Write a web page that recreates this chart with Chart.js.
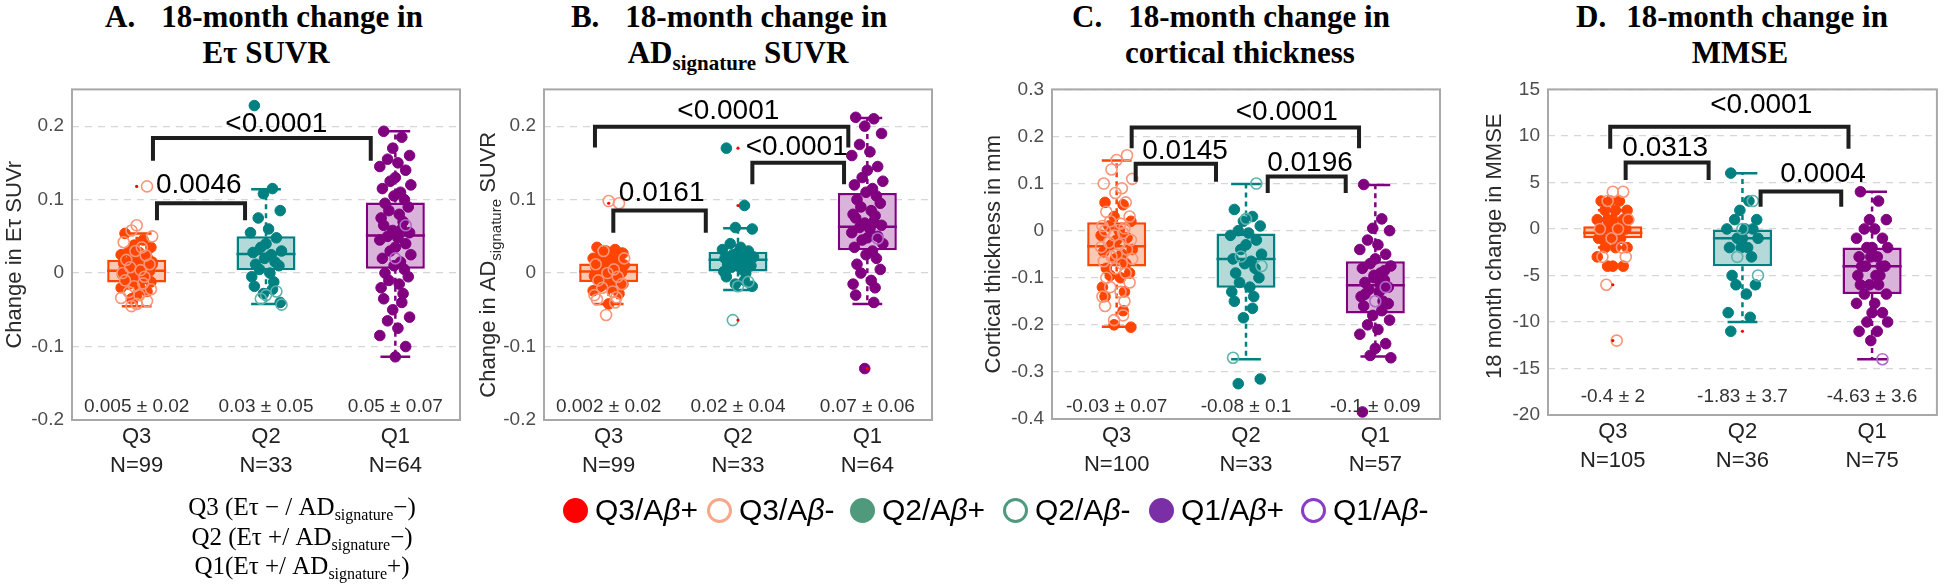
<!DOCTYPE html>
<html>
<head>
<meta charset="utf-8">
<script src="https://cdn.jsdelivr.net/npm/chart.js@4.4.1/dist/chart.umd.min.js"></script>
<style>
  body { margin: 0; background: #fff; }
  #page { position: relative; width: 1944px; height: 585px; overflow: hidden; background: #fff; }
  canvas { position: absolute; top: 70px; }
  .ttl { position: absolute; top: -1px; width: 400px; text-align: center; color: #000;
         font: bold 31px 'Liberation Serif', 'Times New Roman', serif; line-height: 36px; }
  .ttl .tag { margin-right: 26px; }
  .ttl sub { font-size: 21px; vertical-align: -7px; line-height: 0; }
  #qkey { position: absolute; left: 142px; top: 492px; width: 320px; text-align: center; color: #000;
          font: 25px 'Liberation Serif', 'Times New Roman', serif; line-height: 29.5px; }
  #qkey sub { font-size: 16px; vertical-align: -5px; line-height: 0; }
  .leg { position: absolute; top: 493px; display: flex; align-items: center; gap: 7px; color: #000;
         font: 30px 'Liberation Sans', Arial, sans-serif; line-height: 34px; white-space: nowrap; }
  .dot { width: 25px; height: 25px; border-radius: 50%; box-sizing: border-box; display: inline-block; }
</style>
</head>
<body>
<div id="page">
  <div class="ttl" style="left:66px"><div style="position:relative;left:-2px"><span class="tag">A.</span>18-month change in</div><div>E&tau; SUVR</div></div>
  <div class="ttl" style="left:538px"><div style="position:relative;left:-9px"><span class="tag">B.</span>18-month change in</div><div>AD<sub>signature</sub> SUVR</div></div>
  <div class="ttl" style="left:1040px"><div style="position:relative;left:-9px"><span class="tag">C.</span>18-month change in</div><div>cortical thickness</div></div>
  <div class="ttl" style="left:1540px"><div style="position:relative;left:-8px"><span class="tag" style="margin-right:20px">D.</span>18-month change in</div><div>MMSE</div></div>

  <canvas id="chartA" width="480" height="430" style="left:0px"></canvas>
  <canvas id="chartB" width="478" height="430" style="left:478px"></canvas>
  <canvas id="chartC" width="494" height="430" style="left:956px"></canvas>
  <canvas id="chartD" width="494" height="430" style="left:1450px"></canvas>

  <div id="qkey">Q3 (E&tau; &minus; / AD<sub>signature</sub>&minus;)<br>Q2 (E&tau; +/ AD<sub>signature</sub>&minus;)<br>Q1(E&tau; +/ AD<sub>signature</sub>+)</div>
  <div id="legend"></div>
</div>

<script>
// ---------- data ----------
const GROUPS = ['Q3', 'Q2', 'Q1'];
const LEGEND_LABELS = ['Q3/A<i>β</i>+', 'Q3/A<i>β</i>-', 'Q2/A<i>β</i>+', 'Q2/A<i>β</i>-', 'Q1/A<i>β</i>+', 'Q1/A<i>β</i>-'];

// A. E-tau SUVR
const aCounts = [99, 33, 64];
const aTicks = [-0.2, -0.1, 0, 0.1, 0.2];
const aStats = ['0.005 ± 0.02', '0.03 ± 0.05', '0.05 ± 0.07'];
const aPvals = ['0.0046', '<0.0001'];
const aBoxLow = [-0.013, 0.004, 0.006];
const aMedian = [0.003, 0.026, 0.051];
const aBoxHigh = [0.018, 0.050, 0.096];
const aWhiskLow = [-0.045, -0.042, -0.114];
const aWhiskHigh = [0.054, 0.114, 0.193];
const aPos = [
    [0.054, 0.045, 0.038, 0.035, 0.03, 0.028, 0.025, 0.022, 0.02, 0.018, 0.015, 0.013, 0.01, 0.008, 0.006, 0.005, 0.003, 0.002, 0, -0.002, -0.004, -0.006, -0.008, -0.01, -0.012, -0.015, -0.018, -0.02, -0.025, -0.03, -0.035, 0.012, 0.004, -0.001],
    [0.228, 0.115, 0.108, 0.085, 0.075, 0.06, 0.055, 0.048, 0.04, 0.035, 0.03, 0.028, 0.025, 0.02, 0.015, 0.012, 0.01, 0.005, 0, -0.005, -0.012, -0.018, -0.022, -0.028, -0.04],
    [0.193, 0.185, 0.17, 0.16, 0.155, 0.15, 0.145, 0.14, 0.13, 0.125, 0.12, 0.115, 0.11, 0.105, 0.1, 0.095, 0.09, 0.085, 0.08, 0.075, 0.07, 0.065, 0.06, 0.058, 0.055, 0.05, 0.048, 0.045, 0.04, 0.035, 0.03, 0.025, 0.02, 0.015, 0.01, 0.005, 0, -0.005, -0.01, -0.015, -0.02, -0.028, -0.035, -0.04, -0.05, -0.06, -0.065, -0.075, -0.085, -0.1, -0.114]
];
const aNeg = [
    [0.118, 0.065, 0.058, 0.05, 0.042, 0.035, 0.03, 0.024, 0.018, 0.012, 0.008, 0.004, 0, -0.005, -0.01, -0.014, -0.018, -0.022, -0.026, -0.03, -0.034, -0.038, -0.042, -0.045],
    [-0.025, -0.03, -0.035, -0.043],
    [0.065, 0.02]
];
const aOutliers = [[0.118], [], []];

// B. AD-signature SUVR
const bCounts = [99, 33, 64];
const bTicks = [-0.2, -0.1, 0, 0.1, 0.2];
const bStats = ['0.002 ± 0.02', '0.02 ± 0.04', '0.07 ± 0.06'];
const bPvals = ['0.0161', '<0.0001', '<0.0001'];
const bBoxLow = [-0.012, 0.002, 0.031];
const bMedian = [0.002, 0.018, 0.063];
const bBoxHigh = [0.013, 0.029, 0.109];
const bWhiskLow = [-0.042, -0.023, -0.042];
const bWhiskHigh = [0.033, 0.061, 0.211];
const bPos = [
    [0.035, 0.032, 0.03, 0.027, 0.025, 0.022, 0.02, 0.018, 0.015, 0.013, 0.011, 0.009, 0.007, 0.005, 0.004, 0.002, 0.001, 0, -0.002, -0.004, -0.006, -0.008, -0.01, -0.012, -0.015, -0.018, -0.02, -0.024, -0.028, -0.042],
    [0.17, 0.092, 0.062, 0.06, 0.04, 0.035, 0.032, 0.03, 0.028, 0.025, 0.022, 0.02, 0.018, 0.016, 0.014, 0.012, 0.01, 0.008, 0.005, 0.002, 0, -0.005, -0.01, -0.015, -0.018],
    [0.212, 0.21, 0.2, 0.19, 0.175, 0.165, 0.16, 0.145, 0.14, 0.13, 0.125, 0.12, 0.115, 0.11, 0.105, 0.1, 0.095, 0.09, 0.085, 0.08, 0.078, 0.075, 0.07, 0.068, 0.065, 0.062, 0.06, 0.055, 0.05, 0.048, 0.045, 0.04, 0.035, 0.03, 0.025, 0.02, 0.012, 0.005, 0, -0.01, -0.015, -0.02, -0.03, -0.04, -0.13]
];
const bNeg = [
    [0.095, 0.098, 0.03, 0.02, 0.012, 0.005, 0, -0.005, -0.01, -0.015, -0.02, -0.025, -0.03, -0.033, -0.036, -0.04, -0.057],
    [-0.012, -0.018, -0.064],
    [0.047]
];
const bOutliers = [[0.095], [0.17, 0.092, -0.064], [-0.13]];

// C. cortical thickness
const cCounts = [100, 33, 57];
const cTicks = [-0.4, -0.3, -0.2, -0.1, 0, 0.1, 0.2, 0.3];
const cStats = ['-0.03 ± 0.07', '-0.08 ± 0.1', '-0.1 ± 0.09'];
const cPvals = ['0.0145', '0.0196', '<0.0001'];
const cBoxLow = [-0.076, -0.121, -0.176];
const cMedian = [-0.033, -0.060, -0.116];
const cBoxHigh = [0.018, -0.006, -0.065];
const cWhiskLow = [-0.204, -0.273, -0.267];
const cWhiskHigh = [0.149, 0.099, 0.097];
const cPos = [
    [0.06, 0.055, 0.03, 0.02, 0.01, 0, -0.01, -0.015, -0.02, -0.03, -0.04, -0.045, -0.05, -0.06, -0.07, -0.08, -0.09, -0.095, -0.1, -0.12, -0.13, -0.14, -0.17, -0.2, -0.205],
    [0.045, 0.03, 0.02, 0.01, 0, -0.005, -0.01, -0.02, -0.03, -0.04, -0.05, -0.06, -0.065, -0.07, -0.08, -0.09, -0.1, -0.11, -0.12, -0.13, -0.14, -0.15, -0.165, -0.185, -0.315, -0.325],
    [0.098, 0.025, 0.005, 0, -0.02, -0.03, -0.04, -0.05, -0.06, -0.07, -0.075, -0.08, -0.09, -0.1, -0.105, -0.11, -0.12, -0.125, -0.13, -0.14, -0.15, -0.16, -0.17, -0.18, -0.19, -0.2, -0.21, -0.22, -0.24, -0.25, -0.265, -0.27, -0.385, -0.115, -0.095, -0.085, -0.135, -0.155]
];
const cNeg = [
    [0.16, 0.15, 0.13, 0.11, 0.1, 0.09, 0.08, 0.06, 0.04, 0.03, 0.02, 0.015, 0.01, 0.005, 0, -0.005, -0.01, -0.02, -0.025, -0.03, -0.035, -0.04, -0.05, -0.055, -0.06, -0.065, -0.07, -0.08, -0.09, -0.1, -0.11, -0.12, -0.13, -0.14, -0.15, -0.16, -0.18, -0.19],
    [0.1, 0.025, -0.055, -0.075, -0.27],
    [-0.12, -0.15]
];
const cOutliers = [[], [], []];

// D. MMSE
const dCounts = [105, 36, 75];
const dTicks = [-20, -15, -10, -5, 0, 5, 10, 15];
const dStats = ['-0.4 ± 2', '-1.83 ± 3.7', '-4.63 ± 3.6'];
const dPvals = ['0.0313', '0.0004', '<0.0001'];
const dBoxLow = [-1, -4, -7];
const dMedian = [-0.4, -1, -4];
const dBoxHigh = [0.3, 0, -2];
const dWhiskLow = [-2, -10, -14];
const dWhiskHigh = [2, 6, 4];
const dPos = [
    [3, 3, 3, 2, 2, 2, 1, 1, 1, 1, 1, 0, 0, 0, 0, 0, 0, 0, 0, -1, -1, -1, -1, -1, -2, -2, -2, -3, -4, -4, -4],
    [6, 3, 2, 1, 1, 0, 0, 0, -1, -1, -1, -2, -2, -2, -3, -5, -6, -6, -7, -9, -9.5, -11],
    [4, 3, 1, 1, 0, 0, -1, -1, -2, -2, -2, -3, -3, -3, -4, -4, -4, -4, -5, -5, -5, -6, -6, -6, -7, -7, -8, -8, -9, -9, -10, -10, -11, -11, -12]
];
const dNeg = [
    [4, 4, 3, 1, 0, 0, -1, -2, -3, -3, -6, -12],
    [3, 0, -3, -5],
    [-14]
];
const dOutliers = [[-6, -12], [-11], []];

// ---------- style ----------
const SANS = "'Liberation Sans', Arial, Helvetica, sans-serif";
const EDGE = ['#ff4500', '#008080', '#800080'];
const BOX_FILL = ['#fbc8b4', '#b3d9d9', '#dab3da'];
const DOT = ['#ff4500', '#008080', '#800080'];
const RING = ['#f9967a', '#5fb3ad', '#b06ac8'];
const LEGEND_COLORS = ['#ff0000', '#f7a78a', '#4f9a7c', '#4f9a7c', '#7b2fa6', '#8a3cc4'];
const LEGEND_LEFT = [563, 707, 850, 1003, 1149, 1301];
// fixed jitter pattern for strip points (x offsets in group units)
const JITTER = [-0.09, 0.05, -0.02, 0.11, -0.06, 0.02, -0.12, 0.08, 0.0, -0.04, 0.12, -0.1, 0.04, -0.01, 0.07, -0.08, 0.1, -0.05, 0.03, -0.11, 0.06];
const CAP_HALF = 0.115;

const PANELS = {
    chartA: {
        counts: aCounts, ticks: aTicks, stats: aStats, pvals: aPvals, low: aBoxLow, med: aMedian, high: aBoxHigh,
        wlo: aWhiskLow, whi: aWhiskHigh, pos: aPos, neg: aNeg, out: aOutliers,
        yMin: -0.2, yMax: 0.25, yW: 72, padR: 20, padT: 19, xH: 80, titleX: 13, titleDy: 0, statDy: 13,
        yTitle: [['Change in Eτ SUVr', 22, 0]],
        brackets: [
            { a: 1.157, b: 1.838, top: 0.095, leg: 0.072, lx: 1.48, ly: 0.119 },
            { a: 1.126, b: 2.81, top: 0.184, leg: 0.153, lx: 2.08, ly: 0.203 }
        ]
    },
    chartB: {
        counts: bCounts, ticks: bTicks, stats: bStats, pvals: bPvals, low: bBoxLow, med: bMedian, high: bBoxHigh,
        wlo: bWhiskLow, whi: bWhiskHigh, pos: bPos, neg: bNeg, out: bOutliers,
        yMin: -0.2, yMax: 0.25, yW: 66, padR: 24, padT: 19, xH: 80, titleX: 9, titleDy: 10, statDy: 13,
        yTitle: [['Change in AD', 22, 0], ['signature', 15, 6], [' SUVR', 22, 0]],
        brackets: [
            { a: 1.036, b: 1.751, top: 0.085, leg: 0.055, lx: 1.41, ly: 0.109 },
            { a: 2.111, b: 2.82, top: 0.150, leg: 0.121, lx: 2.454, ly: 0.171 },
            { a: 0.894, b: 2.853, top: 0.199, leg: 0.171, lx: 1.925, ly: 0.220 }
        ]
    },
    chartC: {
        counts: cCounts, ticks: cTicks, stats: cStats, pvals: cPvals, low: cBoxLow, med: cMedian, high: cBoxHigh,
        wlo: cWhiskLow, whi: cWhiskHigh, pos: cPos, neg: cNeg, out: cOutliers,
        yMin: -0.4, yMax: 0.3, yW: 96, padR: 10, padT: 19, xH: 81, titleX: 36, titleDy: 0, statDy: 12,
        yTitle: [['Cortical thickness in mm', 22, 0]],
        brackets: [
            { a: 1.147, b: 1.768, top: 0.142, leg: 0.104, lx: 1.529, ly: 0.168 },
            { a: 2.168, b: 2.771, top: 0.115, leg: 0.080, lx: 2.495, ly: 0.143 },
            { a: 1.116, b: 2.874, top: 0.219, leg: 0.175, lx: 2.315, ly: 0.252 }
        ]
    },
    chartD: {
        counts: dCounts, ticks: dTicks, stats: dStats, pvals: dPvals, low: dBoxLow, med: dMedian, high: dBoxHigh,
        wlo: dWhiskLow, whi: dWhiskHigh, pos: dPos, neg: dNeg, out: dOutliers,
        yMin: -20, yMax: 15, yW: 98, padR: 2, padT: 13, xH: 85, titleX: 43, titleDy: -6, statDy: 18,
        yTitle: [['18 month change in MMSE', 22, 0]],
        brackets: [
            { a: 1.099, b: 1.739, top: 7.13, leg: 5.26, lx: 1.404, ly: 8.7 },
            { a: 2.14, b: 2.762, top: 4.03, leg: 2.39, lx: 2.622, ly: 5.89 },
            { a: 0.98, b: 2.818, top: 10.98, leg: 8.63, lx: 2.145, ly: 13.26 }
        ]
    }
};

// ---------- helpers ----------
function jittered(vals, gi, shift) {
    return vals.map((v, k) => ({ x: gi + 1 + JITTER[(k + shift) % JITTER.length], y: v }));
}

function drawRich(ctx, parts, cx, cy) {
    ctx.save();
    ctx.translate(cx, cy);
    ctx.rotate(-Math.PI / 2);
    ctx.fillStyle = '#2b2b2b';
    ctx.textAlign = 'left';
    ctx.textBaseline = 'alphabetic';
    let total = 0;
    const widths = parts.map(([t, s]) => {
        ctx.font = `${s}px ${SANS}`;
        const w = ctx.measureText(t).width;
        total += w;
        return w;
    });
    let x = -total / 2;
    parts.forEach(([t, s, dy], i) => {
        ctx.font = `${s}px ${SANS}`;
        ctx.fillText(t, x, 8 + dy);
        x += widths[i];
    });
    ctx.restore();
}

// whiskers, caps, medians drawn right after the boxes; frame, texts, brackets on top
const panelDecor = {
    id: 'panelDecor',
    afterDatasetDraw(chart, args) {
        if (args.meta.type !== 'bar') return;
        const p = PANELS[chart.canvas.id];
        const { ctx } = chart;
        const xs = chart.scales.x, ys = chart.scales.y;
        GROUPS.forEach((g, i) => {
            const cx = xs.getPixelForValue(i + 1);
            const cap = xs.getPixelForValue(i + 1 + CAP_HALF) - cx;
            const bar = args.meta.data[i];
            const half = bar.width / 2;
            ctx.save();
            ctx.strokeStyle = EDGE[i];
            ctx.lineWidth = 2.5;
            ctx.setLineDash([5, 4]);
            ctx.beginPath();
            ctx.moveTo(cx, ys.getPixelForValue(p.high[i]));
            ctx.lineTo(cx, ys.getPixelForValue(p.whi[i]));
            ctx.moveTo(cx, ys.getPixelForValue(p.low[i]));
            ctx.lineTo(cx, ys.getPixelForValue(p.wlo[i]));
            ctx.stroke();
            ctx.setLineDash([]);
            ctx.beginPath();
            [p.whi[i], p.wlo[i]].forEach(v => {
                const y = ys.getPixelForValue(v);
                ctx.moveTo(cx - cap, y);
                ctx.lineTo(cx + cap, y);
            });
            const ym = ys.getPixelForValue(p.med[i]);
            ctx.moveTo(bar.x - half, ym);
            ctx.lineTo(bar.x + half, ym);
            ctx.stroke();
            ctx.restore();
        });
    },
    afterDraw(chart) {
        const p = PANELS[chart.canvas.id];
        const { ctx, chartArea: ca } = chart;
        const xs = chart.scales.x, ys = chart.scales.y;
        ctx.save();
        // frame
        ctx.strokeStyle = '#a8a8a8';
        ctx.lineWidth = 2;
        ctx.strokeRect(ca.left, ca.top, ca.right - ca.left, ca.bottom - ca.top);
        // mean ± sd
        ctx.fillStyle = '#333';
        ctx.font = `19px ${SANS}`;
        ctx.textAlign = 'center';
        ctx.textBaseline = 'middle';
        p.stats.forEach((s, i) => ctx.fillText(s, xs.getPixelForValue(i + 1), ca.bottom - p.statDy));
        // significance brackets
        ctx.strokeStyle = '#1e1e1e';
        ctx.fillStyle = '#000';
        ctx.lineWidth = 4;
        ctx.lineJoin = 'miter';
        ctx.font = `28px ${SANS}`;
        p.brackets.forEach((b, k) => {
            const x1 = xs.getPixelForValue(b.a), x2 = xs.getPixelForValue(b.b);
            const yt = ys.getPixelForValue(b.top), yl = ys.getPixelForValue(b.leg);
            ctx.beginPath();
            ctx.moveTo(x1, yl);
            ctx.lineTo(x1, yt);
            ctx.lineTo(x2, yt);
            ctx.lineTo(x2, yl);
            ctx.stroke();
            ctx.fillText(p.pvals[k], xs.getPixelForValue(b.lx), ys.getPixelForValue(b.ly));
        });
        ctx.restore();
        drawRich(ctx, p.yTitle, p.titleX, (ca.top + ca.bottom) / 2 + p.titleDy);
    }
};

Chart.defaults.font.family = SANS;

function buildPanel(id) {
    const p = PANELS[id];
    const datasets = [{
        type: 'bar',
        data: GROUPS.map((g, i) => ({ x: i + 1, y: [p.low[i], p.high[i]] })),
        backgroundColor: BOX_FILL,
        borderColor: EDGE,
        borderWidth: 2.5,
        borderSkipped: false,
        barPercentage: 0.456,
        categoryPercentage: 1,
        order: 10
    }];
    GROUPS.forEach((g, i) => {
        datasets.push({
            type: 'scatter', data: jittered(p.pos[i], i, 0),
            pointRadius: 5.3, backgroundColor: DOT[i], borderColor: DOT[i],
            pointBackgroundColor: DOT[i], pointBorderColor: DOT[i], pointBorderWidth: 1, order: 2
        });
        datasets.push({
            type: 'scatter', data: jittered(p.neg[i], i, 7),
            pointRadius: 5.5, backgroundColor: 'rgba(255,255,255,0)', borderColor: RING[i],
            pointBackgroundColor: 'rgba(255,255,255,0)', pointBorderColor: RING[i], pointBorderWidth: 1.6, order: 1
        });
    });
    datasets.push({
        type: 'scatter',
        data: p.out.flatMap((vals, i) => vals.map(v => ({ x: i + 1, y: v }))),
        pointRadius: 1.6, backgroundColor: '#ff0000', pointBackgroundColor: '#ff0000', pointBorderWidth: 0, order: 0
    });

    return new Chart(document.getElementById(id), {
        type: 'bar',
        data: { datasets },
        plugins: [panelDecor],
        options: {
            responsive: false,
            animation: false,
            events: [],
            layout: { padding: { left: 0, right: p.padR, top: p.padT, bottom: 0 } },
            plugins: { legend: { display: false }, tooltip: { enabled: false } },
            scales: {
                x: {
                    type: 'linear', min: 0.5, max: 3.5, offset: false,
                    afterBuildTicks: s => { s.ticks = GROUPS.map((g, i) => ({ value: i + 1 })); },
                    afterFit: s => { s.height = p.xH; },
                    grid: { display: false, offset: false, drawTicks: false },
                    border: { display: false },
                    ticks: {
                        padding: 3, color: '#222', font: { size: 22, lineHeight: 1.3 },
                        maxRotation: 0, autoSkip: false,
                        callback: v => [GROUPS[v - 1], 'N=' + p.counts[v - 1]]
                    }
                },
                y: {
                    type: 'linear', min: p.yMin, max: p.yMax,
                    afterBuildTicks: s => { s.ticks = p.ticks.map(v => ({ value: v })); },
                    afterFit: s => { s.width = p.yW; },
                    grid: { color: '#d6d6d6', lineWidth: 1.2, drawTicks: false },
                    border: { display: false, dash: [7, 6] },
                    ticks: { padding: 8, color: '#4d4d4d', font: { size: 19 }, callback: v => String(v) }
                }
            }
        }
    });
}

Object.keys(PANELS).forEach(buildPanel);

// shared legend
const legend = document.getElementById('legend');
LEGEND_LABELS.forEach((label, i) => {
    const item = document.createElement('div');
    item.className = 'leg';
    item.style.left = LEGEND_LEFT[i] + 'px';
    const open = i % 2 === 1;
    const dotStyle = open
        ? `border:3.5px solid ${LEGEND_COLORS[i]};`
        : `background:${LEGEND_COLORS[i]};`;
    item.innerHTML = `<span class="dot" style="${dotStyle}"></span><span>${label}</span>`;
    legend.appendChild(item);
});
</script>
</body>
</html>
